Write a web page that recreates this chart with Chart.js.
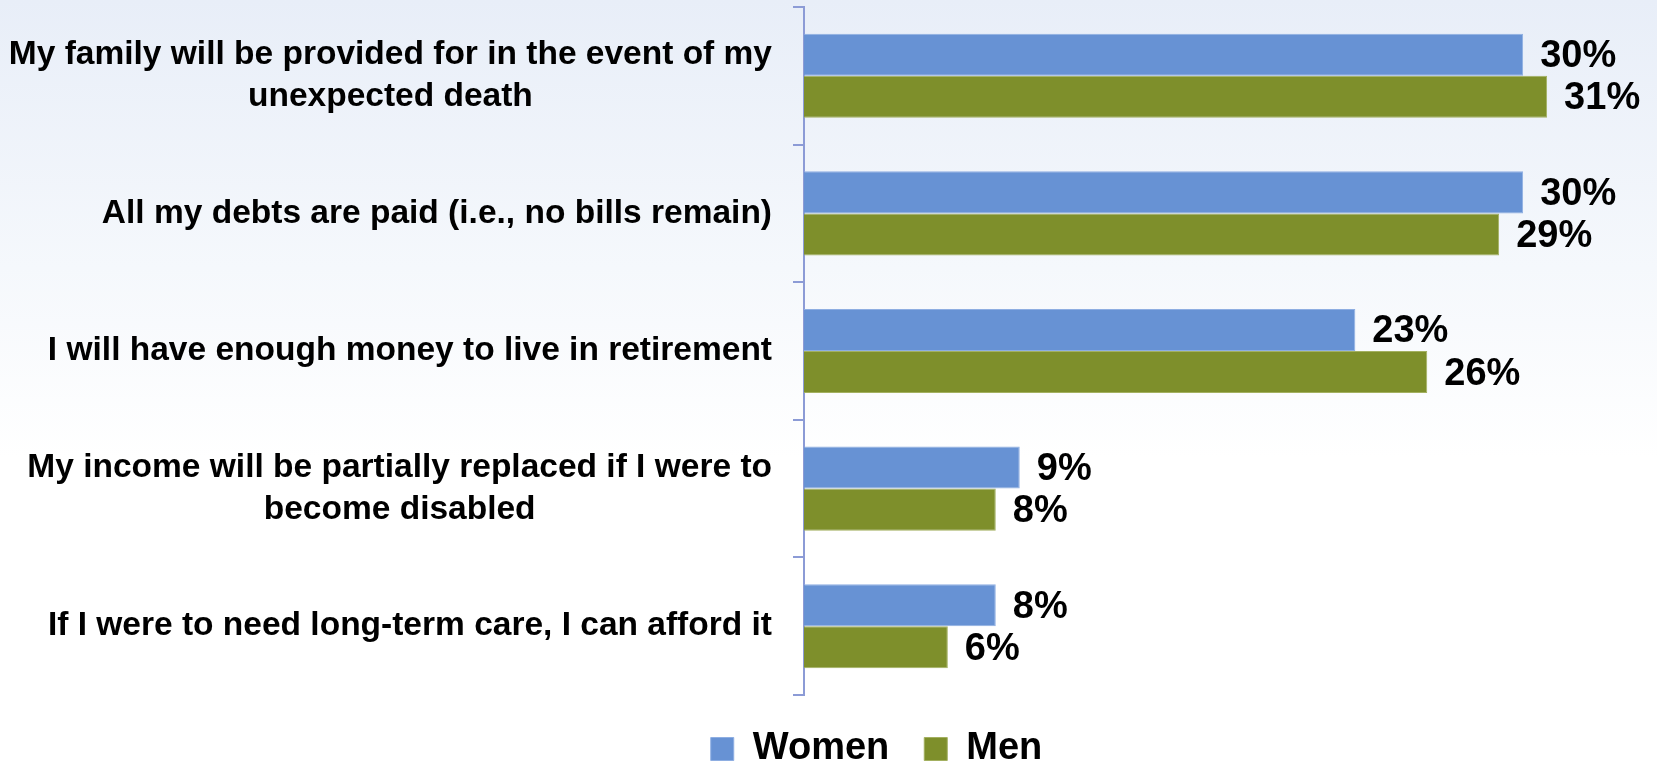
<!DOCTYPE html>
<html>
<head>
<meta charset="utf-8">
<script src="https://cdn.jsdelivr.net/npm/chart.js@4/dist/chart.umd.min.js"></script>
<style>
    html, body { margin: 0; padding: 0; }
    #wrap {
        width: 1657px;
        height: 764px;
        overflow: hidden;
        background: linear-gradient(to bottom, #e8eef8 0%, #f5f8fc 35%, #ffffff 60%);
    }
    #wrap canvas { display: block; }
</style>
</head>
<body>
<div id="wrap">
    <canvas id="barChart" width="1657" height="778"></canvas>
</div>
<script>
const categories = [
    ['My family will be provided for in the event of my', 'unexpected death'],
    ['All my debts are paid (i.e., no bills remain)'],
    ['I will have enough money to live in retirement'],
    ['My income will be partially replaced if I were to', 'become disabled'],
    ['If I were to need long-term care, I can afford it']
];
const womenValues = [30, 30, 23, 9, 8];
const menValues = [31, 29, 26, 8, 6];

const FONT = '"Liberation Sans", Arial, sans-serif';
const axisColor = '#8c9bd6';

// category text: each block right-aligned to the axis, lines centred inside the block
const categoryLabels = {
    id: 'categoryLabels',
    afterDraw(chart) {
        const ctx = chart.ctx;
        const yScale = chart.scales.y;
        const blockRight = yScale.right - 32;
        ctx.save();
        ctx.font = `bold 33.5px ${FONT}`;
        ctx.fillStyle = '#000';
        ctx.textAlign = 'center';
        ctx.textBaseline = 'middle';
        categories.forEach((lines, i) => {
            const y = yScale.getPixelForValue(i);
            const widest = Math.max(...lines.map(l => ctx.measureText(l).width));
            const cx = blockRight - widest / 2;
            lines.forEach((line, j) => {
                ctx.fillText(line, cx, y + (j - (lines.length - 1) / 2) * 42);
            });
        });
        ctx.restore();
    }
};

// percentage labels just past the end of each bar
const valueLabels = {
    id: 'valueLabels',
    afterDatasetsDraw(chart) {
        const ctx = chart.ctx;
        ctx.save();
        ctx.font = `bold 38px ${FONT}`;
        ctx.fillStyle = '#000';
        ctx.textAlign = 'left';
        ctx.textBaseline = 'middle';
        chart.data.datasets.forEach((ds, di) => {
            chart.getDatasetMeta(di).data.forEach((bar, i) => {
                ctx.fillText(ds.data[i] + '%', bar.x + 17, bar.y + 2);
            });
        });
        ctx.restore();
    }
};

// nudge the legend so it sits under the bars rather than the page centre
const legendShift = {
    id: 'legendShift',
    afterLayout(chart) {
        chart.legend.left += 55;
        chart.legend.right += 55;
    }
};

const ctx = document.getElementById('barChart').getContext('2d');
new Chart(ctx, {
    type: 'bar',
    data: {
        labels: categories,
        datasets: [
            {
                label: 'Women',
                data: womenValues,
                backgroundColor: '#6792d4',
                borderColor: '#8eaee2',
                borderWidth: 1,
                borderSkipped: 'start'
            },
            {
                label: 'Men',
                data: menValues,
                backgroundColor: '#7e8f2b',
                borderColor: '#a3b060',
                borderWidth: 1,
                borderSkipped: 'start'
            }
        ]
    },
    options: {
        indexAxis: 'y',
        responsive: false,
        animation: false,
        events: [],
        layout: { padding: { top: 7, right: 14, left: 0, bottom: 0 } },
        datasets: {
            bar: { categoryPercentage: 0.611, barPercentage: 1.0 }
        },
        scales: {
            x: {
                display: false,
                min: 0,
                max: 35
            },
            y: {
                offset: true,
                ticks: { display: false },
                grid: {
                    display: true,
                    offset: true,
                    drawOnChartArea: false,
                    drawTicks: true,
                    tickLength: 11,
                    color: axisColor,
                    lineWidth: 2
                },
                border: { display: true, color: axisColor, width: 2 },
                afterFit(scale) { scale.width = 804; }
            }
        },
        plugins: {
            tooltip: { enabled: false },
            legend: {
                position: 'bottom',
                labels: {
                    font: { family: FONT, size: 38, weight: 'bold' },
                    color: '#000',
                    boxWidth: 23,
                    boxHeight: 23,
                    padding: 35
                }
            }
        }
    },
    plugins: [categoryLabels, valueLabels, legendShift]
});
</script>
</body>
</html>
